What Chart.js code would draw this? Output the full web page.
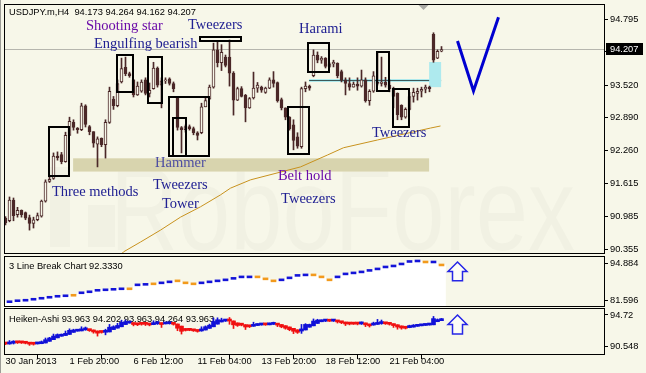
<!DOCTYPE html>
<html>
<head>
<meta charset="utf-8">
<title>USDJPY H4</title>
<script src="https://cdn.jsdelivr.net/npm/chart.js@4.4.1/dist/chart.umd.min.js"></script>
<style>
  html, body { margin: 0; padding: 0; background: #f7f7e9; }
  #wrap { position: relative; width: 646px; height: 373px; overflow: hidden; background: #f7f7e9; }
  #wrap canvas { position: absolute; left: 0; }
  #edge { position: absolute; left: 0; top: 0; width: 1px; height: 373px; background: #9c9c96; }
</style>
</head>
<body>
<div id="wrap">
  <canvas id="mainChart" width="646" height="256" style="top:0"></canvas>
  <canvas id="breakChart" width="646" height="52" style="top:255px"></canvas>
  <canvas id="heikenChart" width="646" height="66" style="top:307px"></canvas>
  <div id="edge"></div>
</div>
<script>
// ---- data ----
const symbolTitle = "USDJPY.m,H4  94.173 94.264 94.162 94.207";
const bidPrice = 94.207;

// H4 candles, oldest first
const opens = [
  90.95, 90.90, 91.30, 91.02, 91.10, 91.06, 90.96, 90.85, 90.92, 90.99,
  91.28, 91.66, 91.72, 92.15, 92.18, 92.04, 92.55, 92.80, 92.69, 92.66,
  93.12, 92.72, 92.62, 92.38, 92.49, 92.37, 92.80, 93.25, 93.12, 93.58,
  93.86, 93.74, 93.62, 93.33, 93.40, 93.62, 93.36, 93.45, 93.85, 93.52,
  93.60, 93.64, 93.55, 93.27, 92.70, 92.66, 92.72, 92.68, 92.60, 92.60,
  93.10, 93.25, 93.48, 94.20, 93.95, 94.06, 94.06, 93.75, 93.23, 93.45,
  93.32, 93.08, 93.27, 93.46, 93.48, 93.38, 93.46, 93.62, 93.57, 93.24,
  93.08, 92.90, 92.75, 92.52, 92.33, 93.45, 93.50, 93.70, 94.10, 94.00,
  94.04, 93.88, 93.93, 93.94, 93.78, 93.62, 93.55, 93.48, 93.54, 93.50,
  93.62, 93.22, 93.40, 93.58, 93.55, 93.58, 93.52, 93.45, 93.36, 93.13,
  92.90, 93.05, 93.30, 93.36, 93.40, 93.44, 93.48, 94.50, 94.04, 94.173
];
const highs = [
  90.98, 91.36, 91.34, 91.16, 91.11, 91.07, 91.01, 90.97, 91.05, 91.30,
  91.69, 91.78, 92.21, 92.23, 92.22, 92.61, 92.90, 92.85, 92.70, 93.17,
  93.14, 92.74, 92.62, 92.52, 92.50, 92.85, 93.48, 93.30, 93.62, 94.04,
  94.06, 93.77, 93.63, 93.58, 93.62, 93.66, 93.56, 93.96, 93.87, 93.66,
  93.66, 93.66, 93.58, 93.30, 92.72, 92.75, 92.75, 92.71, 92.62, 93.17,
  93.29, 93.52, 94.33, 94.35, 94.30, 94.10, 94.39, 93.78, 93.48, 93.49,
  93.34, 93.28, 93.77, 93.57, 93.50, 93.48, 93.66, 93.78, 93.58, 93.27,
  93.08, 92.91, 92.85, 92.60, 93.48, 93.58, 93.52, 94.20, 94.16, 94.07,
  94.05, 93.95, 94.00, 93.95, 93.81, 93.66, 93.66, 93.58, 93.66, 93.81,
  93.66, 93.43, 93.78, 94.14, 94.06, 93.67, 93.62, 93.48, 93.37, 93.14,
  93.08, 93.38, 93.46, 93.46, 93.48, 93.52, 93.50, 94.53, 94.20, 94.264
];
const lows = [
  90.82, 90.88, 90.90, 90.97, 90.97, 90.92, 90.72, 90.76, 90.90, 90.97,
  91.26, 91.64, 91.70, 92.07, 92.00, 92.03, 92.55, 92.65, 92.59, 92.64,
  92.71, 92.56, 92.32, 91.94, 92.33, 92.11, 92.78, 93.05, 93.10, 93.56,
  93.70, 93.67, 93.29, 93.32, 93.38, 93.33, 93.29, 93.44, 93.48, 93.08,
  93.55, 93.52, 93.39, 92.65, 92.21, 92.61, 92.65, 92.56, 92.46, 92.58,
  93.10, 93.25, 93.46, 93.87, 93.80, 93.87, 93.50, 92.94, 93.22, 93.29,
  92.81, 93.07, 93.25, 93.38, 93.38, 93.36, 93.45, 93.48, 93.19, 93.04,
  92.85, 92.65, 92.27, 92.30, 92.30, 93.39, 93.42, 93.68, 93.95, 93.94,
  93.85, 93.86, 93.87, 93.66, 93.58, 93.33, 93.42, 93.48, 93.42, 93.48,
  93.19, 93.13, 93.38, 93.52, 93.50, 93.48, 93.39, 93.08, 92.85, 92.85,
  92.88, 93.04, 93.19, 93.23, 93.29, 93.37, 93.39, 93.96, 94.03, 94.162
];
const closes = [
  90.86, 91.30, 91.00, 91.10, 91.02, 90.95, 90.85, 90.92, 91.00, 91.28,
  91.65, 91.70, 92.15, 92.12, 92.04, 92.55, 92.82, 92.70, 92.66, 93.12,
  92.76, 92.62, 92.40, 92.48, 92.37, 92.80, 93.40, 93.12, 93.55, 93.84,
  93.74, 93.70, 93.33, 93.50, 93.58, 93.36, 93.42, 93.85, 93.52, 93.60,
  93.62, 93.55, 93.45, 92.70, 92.66, 92.72, 92.68, 92.60, 92.55, 93.10,
  93.22, 93.48, 94.20, 93.95, 94.15, 93.90, 93.75, 93.23, 93.45, 93.30,
  93.08, 93.26, 93.46, 93.52, 93.42, 93.46, 93.62, 93.55, 93.22, 93.08,
  92.90, 92.68, 92.45, 92.34, 93.45, 93.50, 93.46, 94.10, 94.00, 94.04,
  93.88, 93.93, 93.96, 93.70, 93.62, 93.55, 93.48, 93.54, 93.50, 93.62,
  93.22, 93.40, 93.70, 93.55, 93.58, 93.52, 93.45, 93.30, 92.95, 92.90,
  93.05, 93.30, 93.38, 93.40, 93.44, 93.48, 93.45, 94.00, 94.17, 94.207
];

// moving average, read as (bar, price) points
const maBars   = [28.5, 29.5, 33.75, 38.75, 43.75, 48.75, 53.75, 56.25, 61.25, 68.75, 73.75, 80.5, 84.5, 93, 106.25, 108.75];
const maValues = [90.22, 90.30, 90.49, 90.72, 90.97, 91.17, 91.40, 91.53, 91.69, 91.84, 91.94, 92.17, 92.31, 92.46, 92.69, 92.73];

const priceTicks = [94.795, 94.165, 93.520, 92.890, 92.260, 91.615, 90.985, 90.355];
const timeTickBars = [0, 16, 32, 48, 64, 80, 96];
const timeLabels = ["30 Jan 2013", "1 Feb 20:00", "6 Feb 12:00", "11 Feb 04:00", "13 Feb 20:00", "18 Feb 12:00", "21 Feb 04:00"];

// 3 line break: one brick every second bar
const breakTitle = "3 Line Break Chart 92.3330";
const breakLevels = [
  80.99, 81.35, 81.53, 81.88, 82.24, 82.60, 82.96, 83.14, 83.32, 84.22,
  84.58, 85.12, 85.30, 85.48, 85.66, 85.66, 87.09, 87.27, 87.45, 87.81,
  88.17, 88.53, 87.81, 87.45, 87.81, 88.17, 88.53, 88.89, 89.43, 89.96,
  89.96, 89.96, 89.25, 88.53, 88.89, 89.61, 90.50, 90.68, 90.68, 89.96,
  88.89, 89.96, 91.04, 91.40, 91.76, 92.30, 92.84, 93.55, 93.91, 94.63,
  95.53, 95.71, 95.35, 95.35, 94.27
];
const breakUp = [
  1, 1, 1, 1, 1, 1, 1, 1, 0, 1,
  1, 1, 1, 1, 1, 0, 1, 1, 0, 1,
  1, 0, 0, 0, 1, 1, 1, 1, 1, 1,
  1, 0, 0, 0, 1, 1, 1, 1, 0, 0,
  0, 1, 1, 1, 1, 1, 1, 1, 1, 1,
  1, 1, 0, 1, 0
];
const breakTicks = [94.884, 81.596];

const heikenTitle = "Heiken-Ashi 93.963 94.202 93.963 94.264 93.963";
const heikenTicks = [94.72, 90.548];

// pattern boxes: [fromBar, toBar, topPrice, bottomPrice]
const patternBoxes = [
  [10.9, 15.9, 92.71, 91.765],
  [27.9, 31.9, 94.10, 93.386],
  [35.6, 39.1, 94.06, 93.173],
  [40.9, 50.9, 93.29, 92.15],
  [41.9, 45.1, 92.88, 92.15],
  [48.6, 58.9, 94.45, 94.37],
  [70.6, 75.9, 93.10, 92.19],
  [75.6, 80.9, 94.33, 93.77],
  [92.9, 95.9, 94.16, 93.405],
  [96.9, 100.9, 93.44, 92.71]
];
// pattern names: [text, bar, price, kind]
const patternNotes = [
  ["Shooting star", 20.1, 94.655, "purple"],
  ["Engulfing bearish", 22.1, 94.318, "navy"],
  ["Tweezers", 45.6, 94.685, "navy"],
  ["Harami", 73.4, 94.60, "navy"],
  ["Hammer", 37.4, 92.02, "slate"],
  ["Tweezers", 36.9, 91.596, "navy"],
  ["Tower", 39.1, 91.214, "navy"],
  ["Three methods", 11.6, 91.446, "navy"],
  ["Belt hold", 68.1, 91.76, "purple"],
  ["Tweezers", 68.9, 91.31, "navy"],
  ["Tweezers", 91.6, 92.598, "navy"]
];
const supportZone = [16.9, 105.9, 92.106, 91.85];
const gapZone = [105.9, 108.9, 93.965, 93.48];
const levelLine = [75.9, 108.9, 93.612];
const forecastBars = [113, 117, 123.25];
const forecastPrices = [94.37, 93.405, 94.83];

// ---- look ----
const bg = "#f7f7e9";
const candleColor = "#4b2828";
const noteColors = { purple: "#6a0aa8", navy: "#202092", slate: "#4e4ea2" };
const smallFont = '9.3px "Liberation Sans", Arial, sans-serif';
const fontFamily = '"Liberation Sans", Arial, sans-serif';
const xMin = -0.375, xMax = 149.625;

Chart.defaults.animation = false;
Chart.defaults.font.family = fontFamily;
Chart.defaults.font.size = 9.3;
Chart.defaults.color = "#000";

function priceAxis(min, max, ticks, fmt) {
  return {
    type: "linear",
    position: "right",
    min: min,
    max: max,
    grid: { drawOnChartArea: false, drawTicks: true, tickLength: 4, color: "#000" },
    border: { display: false },
    ticks: { color: "#000", padding: 2, autoSkip: false, callback: fmt },
    afterBuildTicks: (s) => { s.ticks = ticks.map((v) => ({ value: v })); },
    afterFit: (s) => { s.width = 42; s.paddingTop = 0; s.paddingBottom = 0; }
  };
}

function hiddenBarAxis() {
  return { type: "linear", display: false, min: xMin, max: xMax, offset: false };
}

function frame(chart) {
  const { ctx, chartArea: a } = chart;
  ctx.save();
  ctx.strokeStyle = "#000";
  ctx.lineWidth = 1;
  ctx.strokeRect(a.left + 0.5, a.top + 0.5, a.right - a.left, a.bottom - a.top);
  ctx.restore();
}

function panelTitle(chart, text, y) {
  const ctx = chart.ctx;
  ctx.save();
  ctx.font = smallFont;
  ctx.fillStyle = "#000";
  ctx.textBaseline = "middle";
  ctx.fillText(text, 9, y);
  ctx.restore();
}

function upArrow(chart, bar, topVal, bottomVal) {
  const { ctx, scales: { x, y } } = chart;
  const cx = x.getPixelForValue(bar);
  const top = y.getPixelForValue(topVal);
  const bottom = y.getPixelForValue(bottomVal);
  const neck = top + (bottom - top) * 0.5;
  ctx.save();
  ctx.beginPath();
  ctx.moveTo(cx, top);
  ctx.lineTo(cx + 9.5, neck);
  ctx.lineTo(cx + 5, neck);
  ctx.lineTo(cx + 5, bottom);
  ctx.lineTo(cx - 5, bottom);
  ctx.lineTo(cx - 5, neck);
  ctx.lineTo(cx - 9.5, neck);
  ctx.closePath();
  ctx.fillStyle = "#fdfdf6";
  ctx.fill();
  ctx.strokeStyle = "#2626e6";
  ctx.lineWidth = 1.5;
  ctx.stroke();
  ctx.restore();
}

// ---- main price panel ----
const mainDecor = {
  id: "mainDecor",
  beforeDatasetsDraw(chart) {
    const { ctx, chartArea: a, scales: { x, y } } = chart;
    ctx.save();
    ctx.beginPath();
    ctx.rect(a.left, a.top, a.right - a.left, a.bottom - a.top);
    ctx.clip();

    // watermark
    ctx.fillStyle = "rgba(0,0,0,0.024)";
    ctx.fillRect(a.left + 46, a.top + 163, 20, 80);
    ctx.fillRect(a.left + 84, a.top + 201, 27, 42);
    ctx.save();
    ctx.translate(a.left + 106, a.top + 246);
    ctx.scale(0.79, 1);
    ctx.font = '119px ' + fontFamily;
    ctx.fillText("RoboForex", 0, 0);
    ctx.restore();

    // support zone
    const zx1 = x.getPixelForValue(supportZone[0]), zx2 = x.getPixelForValue(supportZone[1]);
    const zy1 = y.getPixelForValue(supportZone[2]), zy2 = y.getPixelForValue(supportZone[3]);
    ctx.fillStyle = "#d8d4ae";
    ctx.fillRect(zx1, zy1, zx2 - zx1, zy2 - zy1);

    // bid line
    const by = Math.round(y.getPixelForValue(bidPrice)) + 0.5;
    ctx.strokeStyle = "#b6b6ae";
    ctx.lineWidth = 1;
    ctx.beginPath();
    ctx.moveTo(a.left, by);
    ctx.lineTo(a.right, by);
    ctx.stroke();

    // level line with light band
    const lx1 = x.getPixelForValue(levelLine[0]), lx2 = x.getPixelForValue(levelLine[1]);
    const ly = Math.round(y.getPixelForValue(levelLine[2])) + 0.5;
    ctx.strokeStyle = "#aee9ec";
    ctx.lineWidth = 3;
    ctx.beginPath(); ctx.moveTo(lx1, ly); ctx.lineTo(lx2, ly); ctx.stroke();
    ctx.strokeStyle = "#3c5a5a";
    ctx.lineWidth = 1;
    ctx.beginPath(); ctx.moveTo(lx1, ly); ctx.lineTo(lx2, ly); ctx.stroke();

    // gap box
    const gx1 = x.getPixelForValue(gapZone[0]), gx2 = x.getPixelForValue(gapZone[1]);
    const gy1 = y.getPixelForValue(gapZone[2]), gy2 = y.getPixelForValue(gapZone[3]);
    ctx.fillStyle = "#aeeaee";
    ctx.fillRect(gx1, gy1, gx2 - gx1, gy2 - gy1);

    // title
    ctx.font = smallFont;
    ctx.fillStyle = "#000";
    ctx.textBaseline = "middle";
    ctx.fillText(symbolTitle, 9, 12.5);
    ctx.restore();
  },
  afterDraw(chart) {
    const { ctx, chartArea: a, scales: { x, y } } = chart;
    ctx.save();

    // pattern boxes
    ctx.strokeStyle = "#000";
    ctx.lineWidth = 2;
    patternBoxes.forEach((b) => {
      const x1 = Math.round(x.getPixelForValue(b[0])), x2 = Math.round(x.getPixelForValue(b[1]));
      const y1 = Math.round(y.getPixelForValue(b[2])), y2 = Math.round(y.getPixelForValue(b[3]));
      ctx.strokeRect(x1, y1, x2 - x1, y2 - y1);
    });

    // pattern names
    ctx.font = '14.5px "Liberation Serif", "Times New Roman", serif';
    ctx.textBaseline = "middle";
    ctx.textAlign = "left";
    patternNotes.forEach((n) => {
      ctx.fillStyle = noteColors[n[3]];
      ctx.fillText(n[0], x.getPixelForValue(n[1]), y.getPixelForValue(n[2]));
    });

    // forecast V
    ctx.strokeStyle = "#0000d0";
    ctx.lineWidth = 3;
    ctx.lineJoin = "miter";
    ctx.beginPath();
    forecastBars.forEach((b, k) => {
      const px = x.getPixelForValue(b), py = y.getPixelForValue(forecastPrices[k]);
      if (k === 0) ctx.moveTo(px, py); else ctx.lineTo(px, py);
    });
    ctx.stroke();

    // chart shift marker
    const sx = x.getPixelForValue(104.5);
    ctx.fillStyle = "#a9a9a4";
    ctx.beginPath();
    ctx.moveTo(sx - 5, a.top + 1);
    ctx.lineTo(sx + 5, a.top + 1);
    ctx.lineTo(sx, a.top + 6);
    ctx.closePath();
    ctx.fill();

    // bid price box
    const by = Math.round(y.getPixelForValue(bidPrice));
    ctx.fillStyle = "#000";
    ctx.fillRect(a.right + 2, by - 6, 37, 12);
    ctx.fillStyle = "#fff";
    ctx.font = smallFont;
    ctx.fillText(bidPrice.toFixed(3), a.right + 6, by + 0.5);
    ctx.restore();
    frame(chart);
  }
};

const bars = opens.map((o, i) => i);

new Chart(document.getElementById("mainChart"), {
  type: "bar",
  data: {
    datasets: [
      {
        type: "line",
        data: maBars.map((b, k) => ({ x: b, y: maValues[k] })),
        borderColor: "#c8921e",
        borderWidth: 1,
        pointRadius: 0,
        tension: 0,
        order: 0
      },
      {
        data: bars.map((i) => ({ x: i, y: [opens[i], closes[i]] })),
        backgroundColor: (c) => closes[c.dataIndex] >= opens[c.dataIndex] ? bg : candleColor,
        borderColor: candleColor,
        borderWidth: 1,
        borderSkipped: false,
        barThickness: 3,
        minBarLength: 1,
        grouped: false,
        order: 1
      },
      {
        data: bars.map((i) => ({ x: i, y: [lows[i], highs[i]] })),
        backgroundColor: candleColor,
        barThickness: 1,
        grouped: false,
        order: 2
      }
    ]
  },
  options: {
    responsive: false,
    layout: { padding: { left: 4, top: 4, right: 0, bottom: 3 } },
    plugins: { legend: { display: false }, tooltip: { enabled: false } },
    scales: {
      x: hiddenBarAxis(),
      y: priceAxis(90.278, 95.085, priceTicks, (v) => v.toFixed(3))
    }
  },
  plugins: [mainDecor]
});

// ---- 3 line break panel ----
const breakMin = 79.44, breakMax = 97.51;
const breakBars = breakLevels.map((v, k) => 1 + 2 * k);

new Chart(document.getElementById("breakChart"), {
  type: "bar",
  data: {
    datasets: [
      {
        data: breakLevels.map((v, k) => ({ x: breakBars[k], y: [v - 0.35, v + 0.35] })),
        backgroundColor: (c) => breakUp[c.dataIndex] ? "#1414d8" : "#f29a1c",
        barThickness: 5,
        grouped: false,
        order: 1
      },
      {
        data: breakLevels.map((v, k) => ({ x: breakBars[k], y: [breakMin, v] })),
        backgroundColor: "#ffffff",
        barThickness: 8,
        grouped: false,
        order: 2
      }
    ]
  },
  options: {
    responsive: false,
    layout: { padding: { left: 4, top: 1, right: 0, bottom: 1 } },
    plugins: { legend: { display: false }, tooltip: { enabled: false } },
    scales: {
      x: hiddenBarAxis(),
      y: priceAxis(breakMin, breakMax, breakTicks, (v) => String(v))
    }
  },
  plugins: [{
    id: "breakDecor",
    beforeDatasetsDraw(chart) { panelTitle(chart, breakTitle, 11); },
    afterDraw(chart) { upArrow(chart, 113, 95.36, 88.53); frame(chart); }
  }]
});

// ---- Heiken-Ashi panel (derived from the candles above by the usual HA rules) ----
const haOpen = [], haClose = [], haHigh = [], haLow = [];
for (let i = 0; i < opens.length; i++) {
  const c = (opens[i] + highs[i] + lows[i] + closes[i]) / 4;
  const o = i === 0 ? (opens[0] + closes[0]) / 2 : (haOpen[i - 1] + haClose[i - 1]) / 2;
  haOpen.push(o);
  haClose.push(c);
  haHigh.push(Math.max(highs[i], o, c));
  haLow.push(Math.min(lows[i], o, c));
}
const haColor = (c) => haClose[c.dataIndex] >= haOpen[c.dataIndex] ? "#1010d8" : "#f01010";

new Chart(document.getElementById("heikenChart"), {
  type: "bar",
  data: {
    datasets: [
      {
        data: bars.map((i) => ({ x: i, y: [haOpen[i], haClose[i]] })),
        backgroundColor: haColor,
        barThickness: 4,
        minBarLength: 2,
        grouped: false,
        order: 1
      },
      {
        data: bars.map((i) => ({ x: i, y: [haLow[i], haHigh[i]] })),
        backgroundColor: haColor,
        barThickness: 1,
        grouped: false,
        order: 2
      }
    ]
  },
  options: {
    responsive: false,
    layout: { padding: { left: 4, top: 1, right: 0, bottom: 0 } },
    plugins: { legend: { display: false }, tooltip: { enabled: false } },
    scales: {
      x: {
        type: "linear",
        min: xMin,
        max: xMax,
        offset: false,
        grid: { drawOnChartArea: false, drawTicks: true, tickLength: 5, color: "#000" },
        border: { display: false },
        ticks: {
          color: "#000",
          align: "start",
          padding: -3,
          maxRotation: 0,
          autoSkip: false,
          callback: (v) => timeLabels[timeTickBars.indexOf(v)]
        },
        afterBuildTicks: (s) => { s.ticks = timeTickBars.map((v) => ({ value: v })); },
        afterFit: (s) => { s.height = 19; s.paddingLeft = 0; s.paddingRight = 0; }
      },
      y: priceAxis(89.587, 95.641, heikenTicks, (v) => String(v))
    }
  },
  plugins: [{
    id: "heikenDecor",
    beforeDatasetsDraw(chart) { panelTitle(chart, heikenTitle, 12.3); },
    afterDraw(chart) { upArrow(chart, 113, 94.72, 92.22); frame(chart); }
  }]
});
</script>
</body>
</html>
